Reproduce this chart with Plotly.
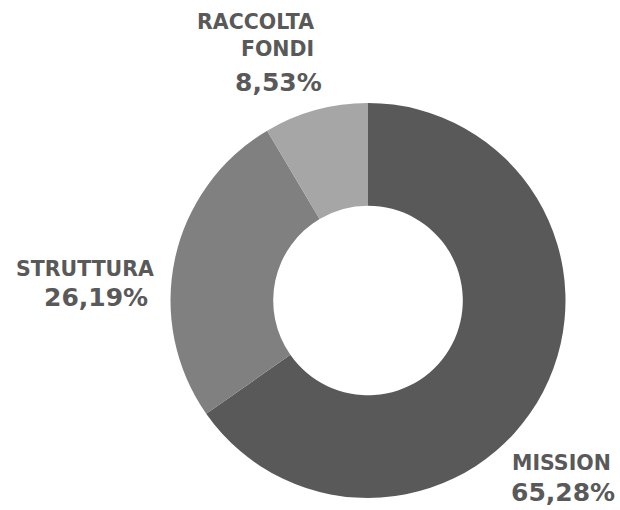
import plotly.graph_objects as go

# Ripartizione dei fondi
categories = ["MISSION", "STRUTTURA", "RACCOLTA<br>FONDI"]
shares = [65.28, 26.19, 8.53]
colors = ["#595959", "#808080", "#a6a6a6"]

W, H = 620, 510
TEXT = "#595959"
FONT = "DejaVu Sans"
NAME_SIZE = 20.5
PCT_SIZE = 25

fig = go.Figure(
    go.Pie(
        values=shares,
        labels=categories,
        marker=dict(colors=colors, line=dict(width=0)),
        hole=0.48,
        sort=False,
        direction="clockwise",
        rotation=0,
        textinfo="none",
        hoverinfo="label+percent",
        showlegend=False,
        domain=dict(x=[170 / W, 566 / W], y=[1 - 498 / H, 1 - 103 / H]),
    )
)


def pct(v):
    return f"{v:.2f}".replace(".", ",") + "%"


def label(txt, x, y, anchor, size):
    return dict(
        x=x / W, y=1 - y / H, xref="paper", yref="paper",
        text=txt, showarrow=False, xanchor=anchor, yanchor="middle", align=anchor,
        font=dict(family=FONT, size=size, color=TEXT, weight="bold"),
    )


annotations = [
    # MISSION, bottom right, left aligned
    label(categories[0], 510, 463, "left", NAME_SIZE),
    label(pct(shares[0]), 509, 492, "left", PCT_SIZE),
    # STRUTTURA, left of the ring, right aligned
    label(categories[1], 156, 269, "right", NAME_SIZE),
    label(pct(shares[1]), 150, 297, "right", PCT_SIZE),
    # RACCOLTA FONDI, above the ring, right aligned
    label(categories[2], 316, 36, "right", NAME_SIZE),
    label(pct(shares[2]), 324, 83, "right", PCT_SIZE),
]

fig.update_layout(
    width=W, height=H,
    margin=dict(l=0, r=0, t=0, b=0),
    paper_bgcolor="white", plot_bgcolor="white",
    annotations=annotations,
)

fig.write_html("out.html")
